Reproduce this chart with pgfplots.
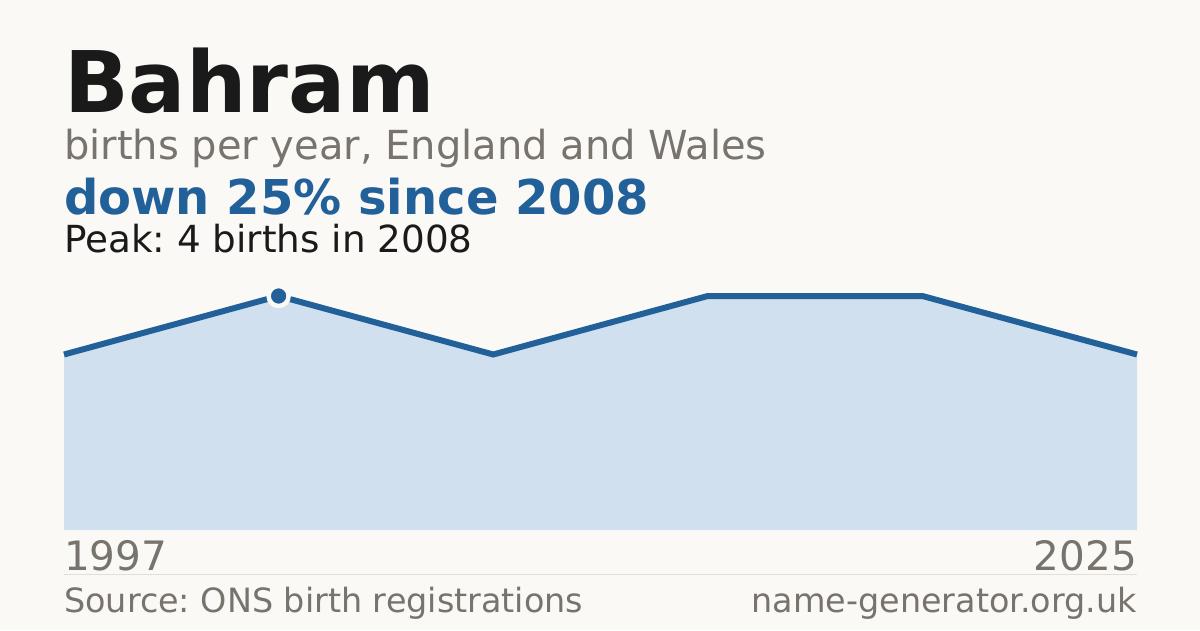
\documentclass[border=0pt]{standalone}
\usepackage{pgfplots}
\pgfplotsset{compat=1.18}
\usepackage{fontspec}
\setmainfont{DejaVu Sans}
\frenchspacing
\definecolor{bg}{HTML}{FAF9F5}
\definecolor{ink}{HTML}{1A1A1A}
\definecolor{muted}{HTML}{78736C}
\definecolor{accent}{HTML}{22609A}
\definecolor{area}{HTML}{D0E0EF}
\definecolor{rule}{HTML}{E2DFD8}
\begin{document}
\begin{tikzpicture}[x=1pt,y=1pt]
\fill[bg] (0,0) rectangle (1200,630);
% headings
\node[anchor=base west,inner sep=0,text=ink] at (64,517)
  {\fontsize{85}{85}\selectfont\bfseries Bahram};
\node[anchor=base west,inner sep=0,text=muted] at (64,470)
  {\fontsize{40}{40}\selectfont births per year, England and Wales};
\node[anchor=base west,inner sep=0,text=accent] at (64,415)
  {\fontsize{48}{48}\selectfont\bfseries down 25\% since 2008};
\node[anchor=base west,inner sep=0,text=ink] at (64,377)
  {\fontsize{37.3}{37.3}\selectfont Peak: 4 births in 2008};
\begin{axis}[
    at={(64pt,100pt)}, anchor=south west,
    scale only axis, width=1073pt, height=234pt,
    xmin=0, xmax=5, ymin=0, ymax=4,
    hide axis, clip=false,
]
\addplot[fill=area, draw=none] coordinates {(0,3) (1,4) (2,3) (3,4) (4,4) (5,3)} \closedcycle;
\addplot[accent, line width=6pt, line join=miter] coordinates {(0,3) (1,4) (2,3) (3,4) (4,4) (5,3)};
\addplot[only marks, mark=*, mark size=10pt,
    mark options={fill=accent, draw=bg, line width=4.5pt}] coordinates {(1,4)};
\end{axis}
% footer
\node[anchor=base west,inner sep=0,text=muted] at (64,60)
  {\fontsize{40.5}{40.5}\selectfont 1997};
\node[anchor=base east,inner sep=0,text=muted] at (1137,60)
  {\fontsize{40.5}{40.5}\selectfont 2025};
\draw[rule, line width=1pt] (64,55.5) -- (1137,55.5);
\node[anchor=base west,inner sep=0,text=muted] at (64,17.5)
  {\fontsize{33.4}{33.4}\selectfont Source: ONS birth registrations};
\node[anchor=base east,inner sep=0,text=muted] at (1137,17.5)
  {\fontsize{33.4}{33.4}\selectfont name-generator.org.uk};
\end{tikzpicture}
\end{document}
